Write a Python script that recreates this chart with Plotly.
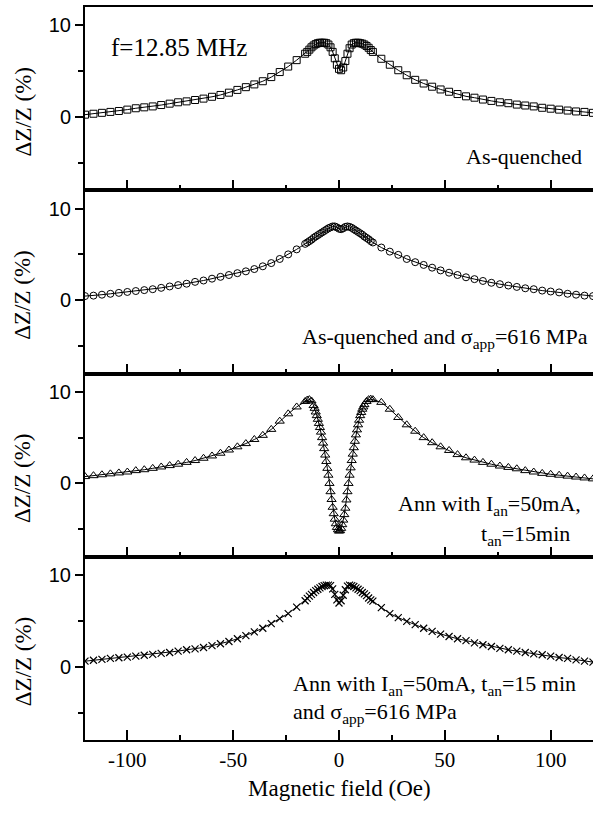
import plotly.graph_objects as go
from plotly.subplots import make_subplots

# ---------------- data ----------------
H_COMMON = [-120, -116, -112, -108, -104, -100, -96, -92, -88, -84, -80, -76, -72, -68,
            -64, -60, -56, -52, -48, -44, -40, -36, -32, -28, -24, -20, -16,
            -15, -14, -13, -12, -11, -10, -9, -8, -7, -6, -5, -4, -3, -2, -1, 0,
            1, 2, 3, 4, 5, 6, 7, 8, 9, 10, 11, 12, 13, 14, 15,
            16, 20, 24, 28, 32, 36, 40, 44, 48, 52, 56, 60, 64, 68, 72, 76, 80,
            84, 88, 92, 96, 100, 104, 108, 112, 116, 120]

H_ANN = [-120, -116, -112, -108, -104, -100, -96, -92, -88, -84, -80, -76, -72, -68,
         -64, -60, -56, -52, -48, -44, -40, -36, -32, -28, -24, -20, -16,
         -15, -14, -13,
         -12, -11.5, -11, -10.5, -10, -9.5, -9, -8.5, -8, -7.5, -7, -6.5, -6, -5.5,
         -5, -4.5, -4, -3.5, -3, -2.5, -2, -1.5, -1, -0.5, 0, 0.5, 1, 1.5, 2, 2.5,
         3, 3.5, 4, 4.5, 5, 5.5, 6, 6.5, 7, 7.5, 8, 8.5, 9, 9.5, 10, 10.5, 11, 11.5, 12,
         13, 14, 15,
         16, 20, 24, 28, 32, 36, 40, 44, 48, 52, 56, 60, 64, 68, 72, 76, 80,
         84, 88, 92, 96, 100, 104, 108, 112, 116, 120]

dz_as_quenched = [0.25, 0.35, 0.45, 0.55, 0.65, 0.8, 0.95, 1.05, 1.15, 1.3, 1.45, 1.6, 1.7, 1.85,
                  2.0, 2.2, 2.4, 2.65, 2.95, 3.25, 3.55, 3.9, 4.35, 4.9, 5.5, 6.2, 6.9,
                  7.1, 7.35, 7.6, 7.8, 7.95, 8.05, 8.1, 8.1, 8.1, 8.05, 7.9, 7.6, 7.1, 6.4, 5.7, 5.25,
                  5.1, 5.4, 6.1, 6.9, 7.5, 7.9, 8.05, 8.1, 8.1, 8.05, 8.0, 7.9, 7.75, 7.55, 7.3,
                  7.1, 6.35, 5.7, 5.1, 4.55, 4.05, 3.65, 3.3, 3.0, 2.75, 2.5, 2.25, 2.1, 1.9, 1.75,
                  1.6, 1.5, 1.35, 1.25, 1.15, 1.0, 0.9, 0.8, 0.7, 0.6, 0.55, 0.45]

dz_as_quenched_stress = [0.45, 0.5, 0.6, 0.7, 0.8, 0.9, 1.0, 1.1, 1.2, 1.35, 1.5, 1.65, 1.8, 2.0,
                         2.15, 2.35, 2.55, 2.75, 2.95, 3.15, 3.4, 3.7, 4.05, 4.5, 5.0, 5.55, 6.15,
                         6.3, 6.45, 6.6, 6.8, 6.95, 7.1, 7.25, 7.4, 7.55, 7.7, 7.85, 7.95, 8.05, 8.05, 7.95, 7.8,
                         7.75, 7.85, 8.0, 8.05, 8.0, 7.9, 7.75, 7.6, 7.45, 7.3, 7.15, 6.95, 6.8, 6.65, 6.45,
                         6.3, 5.75, 5.3, 4.95, 4.5, 4.15, 3.85, 3.55, 3.25, 3.0, 2.75, 2.5, 2.3, 2.1, 1.9,
                         1.75, 1.6, 1.45, 1.3, 1.2, 1.05, 0.95, 0.85, 0.7, 0.6, 0.5, 0.45]

dz_annealed = [0.75, 0.85, 0.95, 1.05, 1.15, 1.25, 1.4, 1.5, 1.65, 1.8, 1.95, 2.1, 2.3, 2.5,
               2.75, 3.0, 3.3, 3.65, 4.0, 4.35, 4.8, 5.25, 5.9, 6.8, 7.6, 8.35, 8.95,
               9.1, 9.15, 9.0,
               8.5, 8.2, 7.8, 7.4, 7.0, 6.55, 6.1, 5.6, 5.0, 4.4, 3.8, 3.1, 2.4, 1.65,
               0.9, 0.0, -0.9, -1.75, -2.6, -3.3, -3.9, -4.4, -4.8, -5.05, -5.2, -5.15, -4.9, -4.5, -4.0, -3.4,
               -2.7, -1.8, -0.9, 0.0, 0.9, 1.7, 2.5, 3.2, 3.9, 4.6, 5.3, 5.85, 6.4, 6.9, 7.4, 7.75, 8.1, 8.35, 8.6,
               8.95, 9.15, 9.2,
               9.15, 8.85, 8.1, 7.2, 6.4, 5.7, 5.0, 4.45, 4.0, 3.6, 3.15, 2.8, 2.55, 2.3, 2.1,
               1.9, 1.75, 1.6, 1.4, 1.25, 1.1, 1.0, 0.9, 0.8, 0.7, 0.6, 0.5]

dz_annealed_stress = [0.6, 0.7, 0.8, 0.9, 0.98, 1.05, 1.15, 1.25, 1.35, 1.45, 1.55, 1.7, 1.85, 1.95,
                      2.1, 2.3, 2.5, 2.75, 3.05, 3.4, 3.8, 4.2, 4.7, 5.25, 5.8, 6.5, 7.2,
                      7.45, 7.7, 7.9, 8.1, 8.3, 8.45, 8.6, 8.75, 8.85, 8.9, 8.9, 8.85, 8.5, 7.9, 7.3, 6.95,
                      7.2, 7.8, 8.4, 8.8, 8.9, 8.85, 8.75, 8.6, 8.45, 8.3, 8.1, 7.95, 7.75, 7.5, 7.3,
                      7.15, 6.45, 5.8, 5.35, 4.95, 4.6, 4.2, 3.85, 3.55, 3.3, 3.05, 2.85, 2.6, 2.4, 2.2,
                      2.0, 1.85, 1.7, 1.55, 1.4, 1.3, 1.15, 1.0, 0.9, 0.75, 0.6, 0.5]

X_TICKS = [-100, -50, 0, 50, 100]
X_TICK_TEXT = ["-100", "-50", "0", "50", "100"]
Y_TICKS = [0, 10]
Y_TICK_TEXT = ["0", "10"]
X_TITLE = "Magnetic field (Oe)"
Y_TITLE = "ΔZ/Z (%)"

SERIF = "Liberation Serif"
SANS = "Liberation Sans"

# ---------------- figure ----------------
fig = make_subplots(rows=4, cols=1, shared_xaxes=True, vertical_spacing=0)

series = [
    (H_COMMON, dz_as_quenched, "square-open", 7, 1.0),
    (H_COMMON, dz_as_quenched_stress, "circle-open", 7, 1.0),
    (H_ANN, dz_annealed, "triangle-up-open", 8, 1.0),
    (H_COMMON, dz_annealed_stress, "x-thin-open", 7, 1.2),
]
for i, (hx, vy, sym, sz, lw) in enumerate(series, start=1):
    fig.add_trace(go.Scatter(
        x=hx, y=vy, mode="lines+markers",
        line=dict(color="black", width=1),
        marker=dict(symbol=sym, size=sz, color="black", line=dict(width=lw, color="black")),
        showlegend=False), row=i, col=1)

for i in range(1, 5):
    fig.update_xaxes(
        row=i, col=1, range=[-120, 120], tickmode="array", tickvals=X_TICKS, ticktext=X_TICK_TEXT,
        ticks="inside", ticklen=10, tickwidth=1.5, tickcolor="black",
        minor=dict(dtick=25, tick0=0, ticks="inside", ticklen=5, tickwidth=1.5, tickcolor="black"),
        showline=True, linewidth=2, linecolor="black", mirror=True,
        showgrid=False, zeroline=False,
        showticklabels=(i == 4),
        tickfont=dict(family=SERIF, size=21, color="black"))
    fig.update_yaxes(
        row=i, col=1, range=[-8, 12], tickmode="array", tickvals=Y_TICKS, ticktext=Y_TICK_TEXT,
        ticks="outside", ticklen=8, tickwidth=1.5, tickcolor="black",
        minor=dict(dtick=5, tick0=0, ticks="outside", ticklen=5, tickwidth=1.5, tickcolor="black"),
        showline=True, linewidth=2, linecolor="black", mirror=False,
        showgrid=False, zeroline=False,
        tickfont=dict(family=SANS, size=20, color="black"))

annotations = []
for i in range(1, 5):
    yref = "y" if i == 1 else f"y{i}"
    annotations.append(dict(
        text=Y_TITLE, textangle=-90, xref="paper", x=-0.122, xanchor="center",
        yref=yref, y=0.6, yanchor="middle", showarrow=False,
        font=dict(family=SERIF, size=23, color="black")))

labels = [
    ("f=12.85 MHz", -108.6, 7.56, "y", "left", 25),
    ("As-quenched", 115.7, -4.33, "y", "right", 22),
    ("As-quenched and σ<sub>app</sub>=616 MPa", 118.6, -4.1, "y2", "right", 22),
    ("Ann with I<sub>an</sub>=50mA,", 26.9, -2.4, "y3", "left", 22),
    ("t<sub>an</sub>=15min", 66.1, -5.64, "y3", "left", 22),
    ("Ann with I<sub>an</sub>=50mA, t<sub>an</sub>=15 min", -22.7, -2.0, "y4", "left", 22),
    ("and σ<sub>app</sub>=616 MPa", -22.7, -5.04, "y4", "left", 22),
]
for txt, xv, yv, yref, anc, fs in labels:
    xref = "x" if yref == "y" else "x" + yref[1:]
    annotations.append(dict(
        text=txt, xref=xref, x=xv, xanchor=anc, yref=yref, y=yv, yanchor="middle",
        showarrow=False, font=dict(family=SERIF, size=fs, color="black")))

annotations.append(dict(
    text=X_TITLE, xref="paper", x=0.5, xanchor="center", yref="paper", y=-0.0655,
    yanchor="middle", showarrow=False, font=dict(family=SERIF, size=23, color="black")))

fig.update_layout(
    width=593, height=814,
    margin=dict(l=85, r=0, t=7, b=74),
    paper_bgcolor="white", plot_bgcolor="white",
    showlegend=False,
    annotations=annotations)

fig.write_html("out.html")
